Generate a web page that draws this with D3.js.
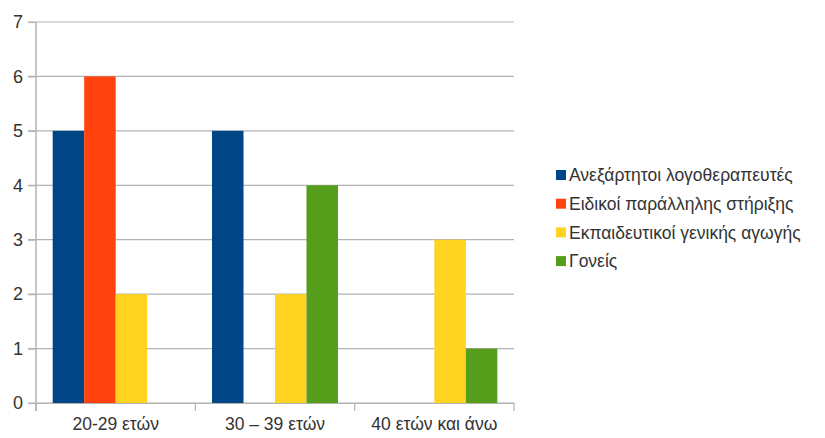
<!DOCTYPE html>
<html>
<head>
<meta charset="utf-8">
<script src="https://cdn.jsdelivr.net/npm/d3@7"></script>
<style>
  body { margin: 0; background: #fff; }
  svg text { font-family: "Liberation Sans", Arial, sans-serif; fill: #333; }
</style>
</head>
<body>
<svg id="chart" width="825" height="438"></svg>
<script>
// Age groups and counts per respondent group
const categories = ["20-29 ετών", "30 – 39 ετών", "40 ετών και άνω"];
const seriesNames = [
  "Ανεξάρτητοι λογοθεραπευτές",
  "Ειδικοί παράλληλης στήριξης",
  "Εκπαιδευτικοί γενικής αγωγής",
  "Γονείς"
];
const seriesColors = ["#004586", "#ff420e", "#ffd320", "#579d1c"];
const independentSLT = [5, 5, 0];
const parallelSupport = [6, 0, 0];
const generalTeachers = [2, 2, 3];
const parents = [0, 4, 1];
const yTicks = [0, 1, 2, 3, 4, 5, 6, 7];

const seriesValues = [independentSLT, parallelSupport, generalTeachers, parents];

const svg = d3.select("#chart");
const plotLeft = 36, plotRight = 514, plotTop = 22, plotBottom = 403;

const x0 = d3.scaleBand().domain(categories).range([plotLeft, plotRight]).paddingInner(0).paddingOuter(0);
const x1 = d3.scaleBand().domain(seriesNames).range([0, x0.bandwidth()]).paddingInner(0).paddingOuter(0.53);
const y = d3.scaleLinear().domain([0, 7]).range([plotBottom, plotTop]);

// Horizontal grid lines
svg.append("g")
  .selectAll("line")
  .data(yTicks)
  .join("line")
  .attr("x1", plotLeft - 8).attr("x2", plotRight)
  .attr("y1", d => y(d)).attr("y2", d => y(d))
  .attr("stroke", "#b3b3b3").attr("stroke-width", 1.2);

// Bars
const groups = svg.append("g")
  .selectAll("g")
  .data(categories)
  .join("g")
  .attr("transform", c => `translate(${x0(c)},0)`);

groups.selectAll("rect")
  .data((c, i) => seriesNames.map((s, k) => ({ s, k, v: seriesValues[k][i] })))
  .join("rect")
  .attr("x", d => x1(d.s))
  .attr("width", x1.bandwidth())
  .attr("y", d => y(d.v))
  .attr("height", d => y(0) - y(d.v))
  .attr("fill", d => seriesColors[d.k]);

// Y axis
const yAxis = svg.append("g")
  .attr("transform", `translate(${plotLeft},0)`)
  .call(d3.axisLeft(y).tickValues(yTicks).tickFormat(d3.format("d")).tickSize(8).tickPadding(5));
yAxis.select(".domain").remove();
yAxis.selectAll(".tick line").attr("stroke", "#b3b3b3").attr("stroke-width", 1.2);
yAxis.selectAll("text").style("font-size", "18px").attr("fill", "#333");
svg.append("line")
  .attr("x1", plotLeft).attr("x2", plotLeft)
  .attr("y1", plotTop).attr("y2", plotBottom + 8)
  .attr("stroke", "#b3b3b3").attr("stroke-width", 1.5);

// X axis
const xAxis = svg.append("g")
  .attr("transform", `translate(0,${plotBottom})`)
  .call(d3.axisBottom(x0).tickSize(0).tickPadding(15));
xAxis.select(".domain").attr("stroke", "#b3b3b3").attr("stroke-width", 1.2);
xAxis.selectAll("text").style("font-size", "17.5px").attr("fill", "#333");
const boundaries = [plotLeft].concat(categories.map(c => x0(c) + x0.bandwidth()));
svg.append("g")
  .selectAll("line")
  .data(boundaries)
  .join("line")
  .attr("x1", d => d).attr("x2", d => d)
  .attr("y1", plotBottom).attr("y2", plotBottom + 8)
  .attr("stroke", "#b3b3b3").attr("stroke-width", 1.2);

// Legend
const legend = svg.append("g").attr("transform", "translate(556,175)");
const items = legend.selectAll("g")
  .data(seriesNames)
  .join("g")
  .attr("transform", (d, i) => `translate(0,${i * 28.7})`);
items.append("rect")
  .attr("x", 0).attr("y", -5).attr("width", 10).attr("height", 10)
  .attr("fill", (d, i) => seriesColors[i]);
items.append("text")
  .attr("x", 13).attr("y", 0).attr("dy", "0.35em")
  .style("font-size", "17.5px")
  .text(d => d);
</script>
</body>
</html>
